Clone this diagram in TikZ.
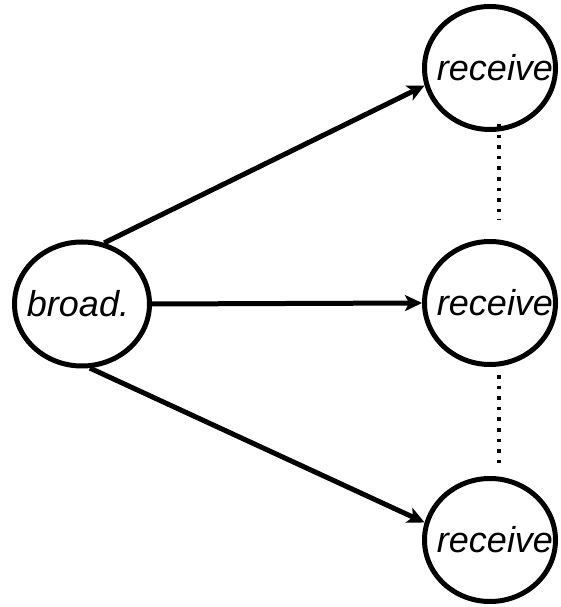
\documentclass[tikz,border=0pt]{standalone}
\usepackage{fontspec}
\setmainfont{Liberation Sans}
\usetikzlibrary{shapes.geometric,arrows.meta}
\begin{document}
\begin{tikzpicture}[x=1pt,y=1pt,line width=5pt]
  \tikzstyle{every node}=[ellipse,draw,inner sep=0pt,font=\fontsize{36}{40}\selectfont\itshape]
  \tikzstyle{sender}=[minimum width=135pt,minimum height=124pt]
  \tikzstyle{receiver}=[minimum width=131pt,minimum height=123pt]
  \tikzstyle{msg}=[-{Stealth[length=17pt,width=16pt,inset=4pt]}]
  \tikzstyle{chain}=[line width=4pt,dash pattern=on 3.6pt off 7pt]
  \useasboundingbox (0,0) rectangle (560,607);
  % one sender, three receivers
  \node[sender] (b) at (82,303) {\makebox[0pt]{broad.\hspace*{8pt}}};
  \node[receiver] (r1) at (490,539) {\makebox[0pt]{\hspace*{10pt}receive}};
  \node[receiver] (r2) at (490,304) {\makebox[0pt]{\hspace*{10pt}receive}};
  \node[receiver] (r3) at (490,67) {\makebox[0pt]{\hspace*{10pt}receive}};
  \draw[msg] (b.70) -- (r1.195);
  \draw[msg] (b.east) -- (r2.west);
  \draw[msg] (b.-83) -- (r3.165);
  % more receivers in between
  \draw[chain] ([xshift=9pt,yshift=8pt]r1.south) -- ([xshift=9pt,yshift=19pt]r2.north);
  \draw[chain] ([xshift=9pt,yshift=-8pt]r2.south) -- ([xshift=9pt,yshift=8pt]r3.north);
\end{tikzpicture}
\end{document}
